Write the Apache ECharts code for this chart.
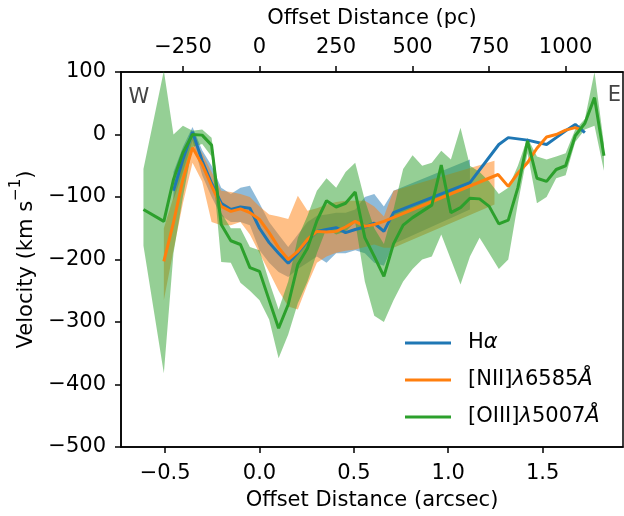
<!DOCTYPE html>
<html><head><meta charset="utf-8">
<script src="https://cdn.jsdelivr.net/npm/echarts@6/dist/echarts.min.js"></script>
<style>html,body{margin:0;padding:0;background:#fff}#c{width:624px;height:516px}</style>
</head><body><div id="c"></div>
<script>
// ---- tick labels ----
const xTicks = [-0.5, 0, 0.5, 1, 1.5];
const pcTicks = [-250, 0, 250, 500, 750, 1000];
const yTicksMin = -500, yTicksMax = 100;

// ---- H alpha ----
const haX = [-0.456,-0.406,-0.355,-0.304,-0.254,-0.203,-0.152,-0.101,-0.051,0.0,0.051,0.101,0.152,0.203,0.254,0.304,0.355,0.406,0.456,0.507,0.558,0.608,0.659,0.710,1.115,1.268,1.318,1.420,1.521,1.572,1.622,1.673,1.724];
const haV = [-90,-40,4,-42,-78,-110,-120,-116,-118,-150,-173,-190,-206,-189,-170,-155,-152,-149,-157,-152,-148,-142,-155,-125,-77,-16,-5,-9,-16,-5,6,16,3];
const haBandX = [-0.456,-0.406,-0.355,-0.304,-0.254,-0.203,-0.152,-0.101,-0.051,0.0,0.051,0.101,0.152,0.203,0.254,0.304,0.355,0.406,0.456,0.507,0.558,0.608,0.659,0.710,1.115];
const haLo = [-105,-60,-10,-65,-100,-130,-140,-140,-145,-185,-205,-220,-228,-215,-205,-195,-205,-190,-190,-185,-190,-205,-210,-175,-120];
const haHi = [-60,-20,12,-25,-50,-85,-95,-85,-82,-110,-140,-160,-180,-160,-140,-130,-128,-125,-125,-120,-100,-95,-115,-90,-40];

// ---- [NII] 6585 ----
const niiX = [-0.507,-0.456,-0.406,-0.355,-0.304,-0.254,-0.203,-0.152,-0.101,-0.051,0.0,0.051,0.101,0.152,0.203,0.254,0.304,0.355,0.406,0.456,0.507,0.558,0.608,0.659,1.264,1.318,1.369,1.420,1.470,1.521,1.572,1.622,1.673,1.700];
const niiV = [-203,-141,-72,-21,-48,-82,-115,-123,-119,-125,-136,-157,-181,-200,-187,-168,-155,-156,-155,-148,-139,-147,-144,-139,-64,-83,-62,-45,-22,-4,0,7,11,8];
const niiBandX = [-0.507,-0.456,-0.406,-0.355,-0.304,-0.254,-0.203,-0.152,-0.101,-0.051,0.0,0.051,0.101,0.152,0.203,0.254,0.304,0.355,0.406,0.456,0.507,0.558,0.608,0.659,0.710,1.245];
const niiLo = [-265,-185,-110,-45,-75,-140,-145,-145,-140,-160,-190,-220,-250,-275,-280,-240,-205,-195,-189,-186,-184,-180,-176,-181,-181,-112];
const niiHi = [-150,-100,-45,-5,-30,-60,-90,-92,-95,-100,-115,-128,-131,-135,-98,-122,-118,-112,-108,-106,-106,-106,-115,-131,-90,-42];

// ---- [OIII] 5007 ----
const oiiiX = [-0.615,-0.507,-0.456,-0.406,-0.355,-0.304,-0.254,-0.203,-0.152,-0.101,-0.051,0.0,0.051,0.101,0.152,0.203,0.254,0.304,0.355,0.406,0.456,0.507,0.558,0.608,0.659,0.710,0.761,0.811,0.862,0.913,0.963,1.014,1.065,1.115,1.166,1.217,1.268,1.318,1.369,1.420,1.470,1.521,1.572,1.622,1.673,1.724,1.775,1.825];
const oiiiV = [-120,-139,-72,-29,0,-1,-17,-144,-170,-176,-213,-219,-265,-310,-272,-208,-182,-138,-106,-116,-110,-92,-165,-195,-227,-175,-145,-133,-123,-113,-49,-125,-117,-102,-103,-115,-143,-137,-85,-10,-70,-75,-56,-50,-2,18,59,-34];
const oiiiLo = [-178,-382,-190,-100,-20,-15,-35,-204,-205,-237,-250,-265,-296,-358,-320,-270,-235,-190,-150,-160,-155,-140,-235,-290,-300,-265,-235,-215,-200,-195,-160,-200,-240,-195,-165,-190,-215,-200,-110,-30,-110,-100,-70,-65,-12,8,14,-58];
const oiiiHi = [-55,102,0,14,6,8,-5,-125,-150,-150,-180,-185,-235,-280,-235,-165,-130,-90,-70,-85,-60,-45,-105,-150,-175,-120,-55,-33,-50,-45,-26,-40,11,-50,-60,-75,-95,-85,-50,-5,-35,-40,-35,-30,8,25,100,-15];

const seriesNames = ['Hα', '[NII]λ6585Å', '[OIII]λ5007Å'];
const colors = ['#1f77b4', '#ff7f0e', '#2ca02c'];

const FONT = 'DejaVu Sans';
const FS = 21;
const X_MIN = -0.734, X_MAX = 1.926;
const PC_PER_ARCSEC = 616.6;

function fmtMinus(s) { return String(s).replace('-', '\u2212'); }
function pairs(xs, ys) { return xs.map((x, i) => [x, ys[i]]); }

function band(name, xs, lo, hi, color) {
  return {
    type: 'custom', name: name, silent: true, animation: false,
    xAxisIndex: 0, yAxisIndex: 0,
    data: [[xs[0], lo[0]]],
    renderItem: function (params, api) {
      const pts = [];
      for (let i = 0; i < xs.length; i++) pts.push(api.coord([xs[i], hi[i]]));
      for (let i = xs.length - 1; i >= 0; i--) pts.push(api.coord([xs[i], lo[i]]));
      return { type: 'polygon', shape: { points: pts }, style: { fill: color, opacity: 0.5 } };
    }
  };
}
function line(name, xs, ys, color) {
  return {
    type: 'line', name: name, data: pairs(xs, ys), showSymbol: false, symbol: 'none',
    animation: false, xAxisIndex: 0, yAxisIndex: 0,
    lineStyle: { width: 3, color: color }, itemStyle: { color: color }, z: 3
  };
}

const axisCommon = {
  axisLine: { show: true, onZero: false, lineStyle: { color: '#000', width: 1.5 } },
  splitLine: { show: false }
};

const chart = echarts.init(document.getElementById('c'));
chart.setOption({
  animation: false,
  backgroundColor: '#fff',
  grid: { left: 121, right: 1, top: 72, bottom: 69, show: true, borderColor: '#000', borderWidth: 1.5, backgroundColor: 'transparent' },
  xAxis: [
    Object.assign({
      type: 'value', position: 'bottom', min: X_MIN, max: X_MAX,
      axisTick: { show: true, customValues: xTicks, length: 6, lineStyle: { color: '#000', width: 1.5 } },
      axisLabel: { customValues: xTicks, margin: 16, fontSize: FS, fontFamily: FONT, color: '#000',
        formatter: v => (v < 0 ? '\u2212' : '') + Math.abs(v).toFixed(1) },
      name: 'Offset Distance (arcsec)', nameLocation: 'middle', nameGap: 43,
      nameTextStyle: { fontSize: FS, fontFamily: FONT, color: '#000' }
    }, axisCommon),
    Object.assign({
      type: 'value', position: 'top', min: X_MIN * PC_PER_ARCSEC, max: X_MAX * PC_PER_ARCSEC,
      axisTick: { show: true, customValues: pcTicks, length: 6, lineStyle: { color: '#000', width: 1.5 } },
      axisLabel: { customValues: pcTicks, margin: 14, fontSize: FS, fontFamily: FONT, color: '#000',
        formatter: v => fmtMinus(Math.round(v)) },
      name: 'Offset Distance (pc)', nameLocation: 'middle', nameGap: 43,
      nameTextStyle: { fontSize: FS, fontFamily: FONT, color: '#000' }
    }, axisCommon)
  ],
  yAxis: [Object.assign({
    type: 'value', min: yTicksMin, max: yTicksMax, interval: 100,
    axisTick: { show: true, length: 6, lineStyle: { color: '#000', width: 1.5 } },
    axisLabel: { margin: 15, fontSize: FS, fontFamily: FONT, color: '#000', formatter: v => fmtMinus(v) },
    name: '{a|Velocity (km s}{s|\u22121}{a|)}', nameLocation: 'middle', nameGap: 84, nameRotate: 90,
    nameTextStyle: { fontSize: FS, fontFamily: FONT, color: '#000',
      rich: {
        a: { fontSize: FS, fontFamily: FONT, color: '#000', lineHeight: 28, verticalAlign: 'bottom' },
        s: { fontSize: 15, fontFamily: FONT, color: '#000', lineHeight: 16, verticalAlign: 'top' }
      } }
  }, axisCommon)],
  legend: {
    data: seriesNames, orient: 'vertical', left: 400, top: 326, itemGap: 13,
    icon: 'rect', itemWidth: 46, itemHeight: 3,
    formatter: function (name) {
      if (name === 'Hα') return '{n|H}{i|α}';
      if (name === '[NII]λ6585Å') return '{n|[NII]}{i|λ}{n|6585}{i|Å}';
      return '{n|[OIII]}{i|λ}{n|5007}{i|Å}';
    },
    textStyle: { fontSize: FS, fontFamily: FONT, color: '#000', padding: [0, 0, 0, 12], lineHeight: 24,
      rich: {
        n: { fontSize: FS, fontFamily: FONT, color: '#000' },
        i: { fontSize: FS, fontFamily: FONT, color: '#000', fontStyle: 'italic' }
      } }
  },
  graphic: [
    { type: 'text', x: 139, y: 97.5, style: { text: 'W', fontSize: FS, fontFamily: FONT, fill: '#444', align: 'center', verticalAlign: 'middle' } },
    { type: 'text', x: 614.5, y: 96, style: { text: 'E', fontSize: FS, fontFamily: FONT, fill: '#444', align: 'center', verticalAlign: 'middle' } }
  ],
  series: [
    band('Hα band', haBandX, haLo, haHi, colors[0]),
    band('[NII] band', niiBandX, niiLo, niiHi, colors[1]),
    band('[OIII] band', oiiiX, oiiiLo, oiiiHi, colors[2]),
    line(seriesNames[0], haX, haV, colors[0]),
    line(seriesNames[1], niiX, niiV, colors[1]),
    line(seriesNames[2], oiiiX, oiiiV, colors[2])
  ]
});
</script>
</body></html>
